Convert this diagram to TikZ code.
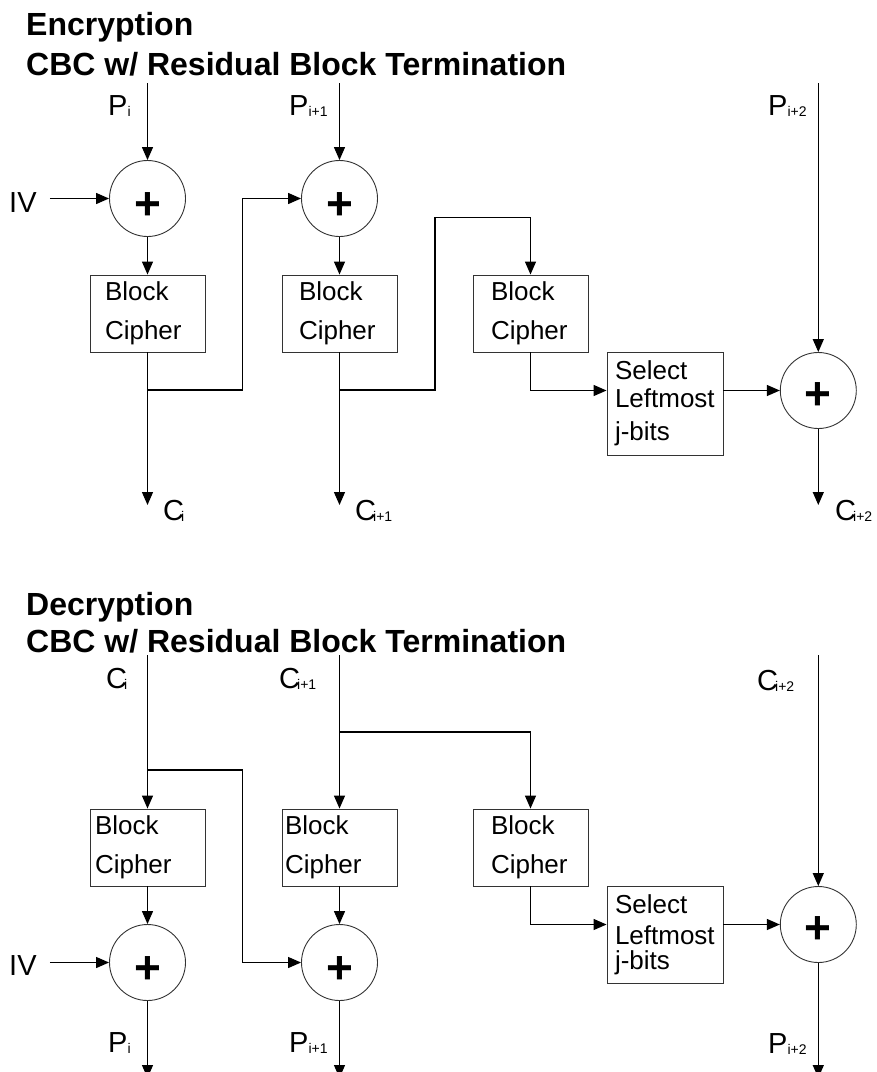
\documentclass[tikz,border=0pt]{standalone}
\usepackage{fontspec}
\setmainfont{Liberation Sans}
\usetikzlibrary{arrows.meta}
\newcommand{\sbx}[1]{\raisebox{-1.5pt}{\fontsize{14}{14}\selectfont #1}}
\newcommand{\xplus}[1]{\smash{\raisebox{#1}{+}}}
\tikzset{
  wire/.style={line width=1.3pt, -{Triangle[length=13pt,width=11pt]}},
  xorc/.style={circle, draw=black!80, line width=0.9pt, minimum size=76pt, inner sep=0pt,
    font=\fontsize{46}{46}\selectfont\bfseries},
  blk/.style={draw=black!80, line width=0.9pt, minimum width=115pt, minimum height=77pt,
    align=left, inner ysep=0pt, font=\fontsize{26}{39}\selectfont},
  selbox/.style={draw=black!80, line width=0.9pt, minimum width=116pt,
    align=left, inner ysep=0pt, inner xsep=8pt, text width=100pt, font=\fontsize{26}{28}\selectfont},
  lab/.style={inner sep=0pt, anchor=base west, font=\fontsize{29}{29}\selectfont},
  ttl/.style={inner sep=0pt, anchor=base west, font=\fontsize{32}{32}\selectfont\bfseries}
}
\begin{document}
\begin{tikzpicture}[x=1pt,y=-1pt]
\useasboundingbox (0,0) rectangle (877,1072);

% ================= Encryption =================
\node[ttl] (t1) at (26,35) {Encryption};
\node[ttl] (t2) at (26,75) {CBC w/ Residual Block Termination};

\node[lab] (lp1) at (108,115) {P\sbx{i}};
\node[lab] (lp2) at (289,115) {P\sbx{i+1}};
\node[lab] (lp3) at (768,115) {P\sbx{i+2}};
\node[lab, anchor=west] (iv1) at (9,202.5) {IV};

\node[xorc] (x1) at (147.5,198.5) {\xplus{-21pt}};
\node[xorc] (x2) at (339.5,198.5) {\xplus{-21pt}};
\node[xorc] (x4) at (818.3,390.5) {\xplus{-19pt}};

\node[blk, inner xsep=15pt, text width=85pt] (b1) at (147.5,313.5) {Block\\Cipher};
\node[blk, inner xsep=17pt, text width=81pt] (b2) at (339.5,313.5) {Block\\Cipher};
\node[blk, inner xsep=18pt, text width=79pt] (b3) at (530.5,313.5) {Block\\Cipher};
\node[selbox, minimum height=103pt] (s1) at (665,403.7) {Select\\Leftmost\\[5pt]j-bits};

\coordinate (p1) at (147.5,83);
\coordinate (p2) at (339.5,83);
\coordinate (p3) at (818.3,83);
\coordinate (j1) at (147.5,390);
\coordinate (j2) at (339.5,390);
\coordinate (c1) at (147.5,505);
\coordinate (c2) at (339.5,505);
\coordinate (c3) at (818.3,505);

\draw[wire] (p1) -- (x1.north);
\draw[wire] (p2) -- (x2.north);
\draw[wire] (p3) -- (x4.north);
\draw[wire, shorten <=13pt] (iv1.east |- x1.west) -- (x1.west);
\draw[wire] (x1.south) -- (b1.north);
\draw[wire] (x2.south) -- (b2.north);
\draw[wire] (b1.south) -- (c1);
\draw[wire] (b2.south) -- (c2);
\draw[wire] (j1) -| ([xshift=-58.5pt]x2.west) -- (x2.west);
\draw[wire] (j2) -| ([xshift=-95.5pt,yshift=57pt]b3.north) -| (b3.north);
\draw[wire] (b3.south) |- (s1.west |- x4);
\draw[wire] (s1.east |- x4) -- (x4.west);
\draw[wire] (x4.south) -- (c3);

\node[lab] (lc1) at (163,520) {C\kern-3pt\sbx{i}};
\node[lab] (lc2) at (355,520) {C\kern-3pt\sbx{i+1}};
\node[lab] (lc3) at (835,520) {C\kern-3pt\sbx{i+2}};

% ================= Decryption =================
\node[ttl] (t3) at (26,615) {Decryption};
\node[ttl] (t4) at (26,652) {CBC w/ Residual Block Termination};

\node[lab] (ld1) at (106,688) {C\kern-3pt\sbx{i}};
\node[lab] (ld2) at (279,688) {C\kern-3pt\sbx{i+1}};
\node[lab] (ld3) at (757,690) {C\kern-3pt\sbx{i+2}};

\node[blk, inner xsep=5pt, text width=105pt] (d1) at (147.5,847.5) {Block\\Cipher};
\node[blk, inner xsep=3pt, text width=109pt] (d2) at (339.5,847.5) {Block\\Cipher};
\node[blk, inner xsep=18pt, text width=79pt] (d3) at (530.5,847.5) {Block\\Cipher};
\node[selbox, minimum height=97pt] (ds) at (665,934.5) {Select\\[3pt]Leftmost\\[-3pt]j-bits};

\node[xorc] (dx1) at (147.5,962.5) {\xplus{-21pt}};
\node[xorc] (dx2) at (339.5,962.5) {\xplus{-21pt}};
\node[xorc] (dx4) at (818.3,924.5) {\xplus{-19pt}};
\node[lab, anchor=west] (iv2) at (9,965.5) {IV};

\coordinate (dc1) at (147.5,655);
\coordinate (dc2) at (339.5,655);
\coordinate (dc3) at (818.3,655);
\coordinate (dj1) at (147.5,770);
\coordinate (dj2) at (339.5,732);
\coordinate (dp1) at (147.5,1078);
\coordinate (dp2) at (339.5,1078);
\coordinate (dp3) at (818.3,1078);

\draw[wire] (dc1) -- (d1.north);
\draw[wire] (dc2) -- (d2.north);
\draw[wire] (dc3) -- (dx4.north);
\draw[wire] (dj1) -| ([xshift=-58.5pt]dx2.west) -- (dx2.west);
\draw[wire] (dj2) -| (d3.north);
\draw[wire] (d1.south) -- (dx1.north);
\draw[wire] (d2.south) -- (dx2.north);
\draw[wire, shorten <=13pt] (iv2.east |- dx1.west) -- (dx1.west);
\draw[wire] (d3.south) |- (ds.west |- dx4);
\draw[wire] (ds.east |- dx4) -- (dx4.west);
\draw[wire] (dx1.south) -- (dp1);
\draw[wire] (dx2.south) -- (dp2);
\draw[wire] (dx4.south) -- (dp3);

\node[lab] (lq1) at (108,1052) {P\sbx{i}};
\node[lab] (lq2) at (289,1052) {P\sbx{i+1}};
\node[lab] (lq3) at (768,1053) {P\sbx{i+2}};
\end{tikzpicture}
\end{document}
